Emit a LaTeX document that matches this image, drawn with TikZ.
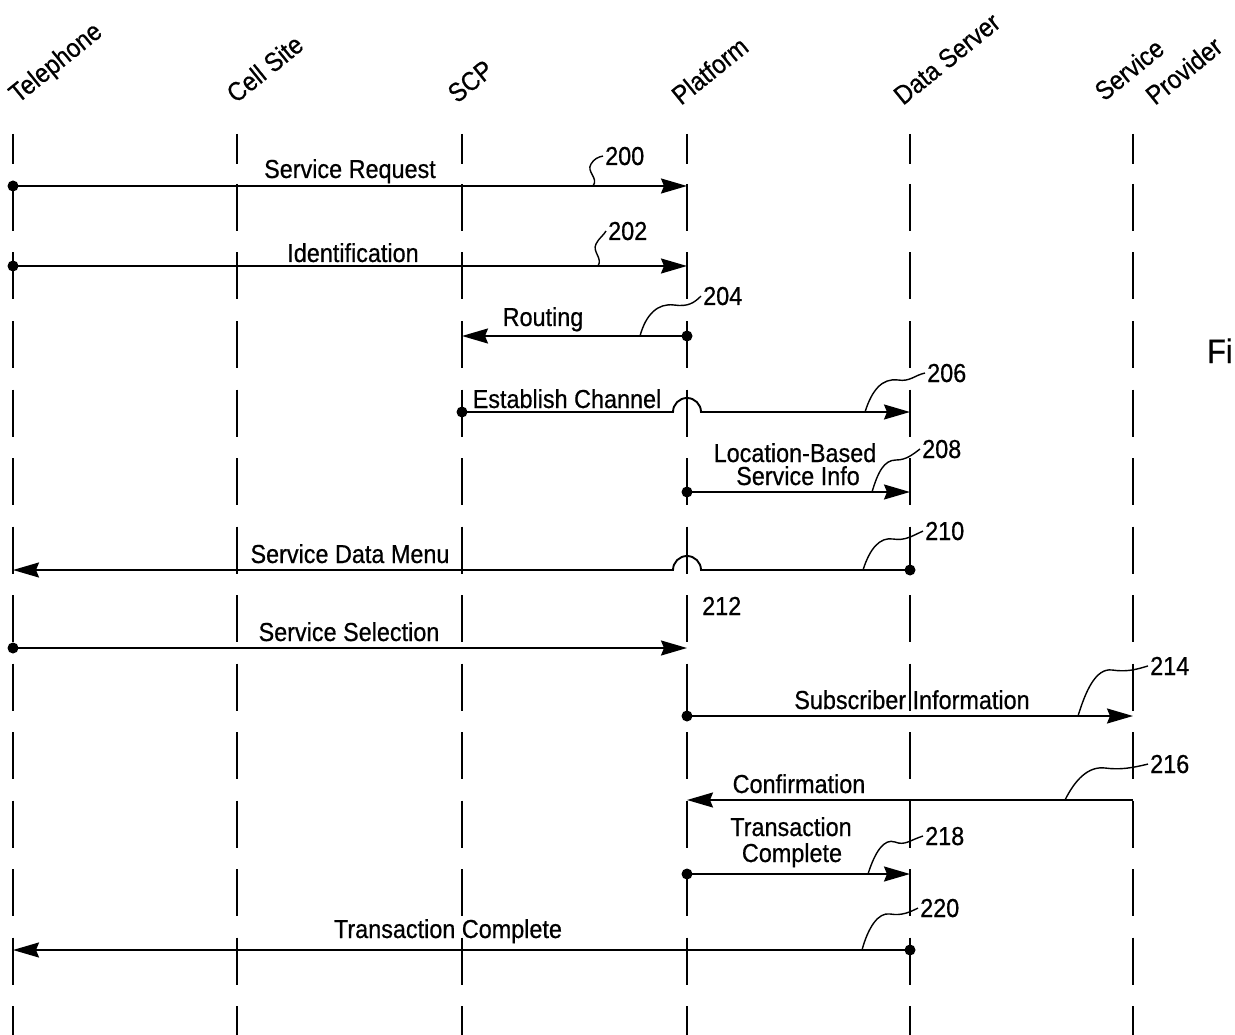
\documentclass[tikz,border=0pt]{standalone}
\usepackage{fontspec}
\setmainfont{Liberation Sans}[FakeStretch=0.9,FakeBold=0.6]
\usetikzlibrary{arrows.meta}

\begin{document}
\begin{tikzpicture}[x=1pt,y=-1pt,>={Stealth[length=26pt,width=15pt,inset=3pt]},
  font=\fontsize{26}{30}\selectfont]
  \tikzstyle{lifeline}=[line width=1.8pt,dash pattern=on 30pt off 20pt on 47pt off 21.5pt on 47pt off 21.5pt on 47pt off 21.5pt on 47pt off 21.5pt on 47pt off 21.5pt on 47pt off 21.5pt on 47pt off 21.5pt on 47pt off 21.5pt on 47pt off 21.5pt on 47pt off 21.5pt on 47pt off 21.5pt on 47pt off 21.5pt on 47pt off 21.5pt]
  \tikzstyle{msg}=[line width=1.9pt,->]
  \tikzstyle{leader}=[line width=1.4pt]
  \tikzstyle{dot}=[circle,fill,inner sep=0pt,minimum size=11pt]
  \tikzstyle{head}=[rotate=39,anchor=base west,inner sep=0pt,font=\fontsize{26.5}{30}\selectfont]
  \tikzstyle{msglabel}=[anchor=base,inner sep=0pt]
  \tikzstyle{ref}=[anchor=base west,inner sep=0pt]

  \useasboundingbox (0,0) rectangle (1235,1035);

  % column heads
  \node[head] (tel) at (18,104) {Telephone};
  \node[head] (cell) at (236,104) {Cell Site};
  \node[head] (scp) at (457,104) {SCP};
  \node[head] (plat) at (681,106) {Platform};
  \node[head] (data) at (903,106) {Data Server};
  \node[head] (prov) at (1104,102) {Service};
  \node[head] (provb) at (1155,106) {Provider};
  \node[anchor=base west,inner sep=0pt,font=\fontsize{34}{40}\selectfont] (fig) at (1207,363) {Fi};

  % life lines
  \coordinate (tel-top) at (13,134);   \coordinate (tel-bot) at (13,1035);
  \coordinate (cell-top) at (237,134); \coordinate (cell-bot) at (237,1035);
  \coordinate (scp-top) at (462,134);  \coordinate (scp-bot) at (462,1035);
  \coordinate (plat-top) at (687,134); \coordinate (plat-bot) at (687,1035);
  \coordinate (data-top) at (910,134); \coordinate (data-bot) at (910,1035);
  \coordinate (prov-top) at (1133,134); \coordinate (prov-bot) at (1133,1035);
  \draw[lifeline] (tel-top) -- (tel-bot);
  \draw[lifeline] (cell-top) -- (cell-bot);
  \draw[lifeline] (scp-top) -- (scp-bot);
  \draw[lifeline] (plat-top) -- (plat-bot);
  \draw[lifeline] (data-top) -- (data-bot);
  \draw[lifeline] (prov-top) -- (prov-bot);

  % 200
  \node[dot] (d200) at (13,186) {};
  \coordinate (a200) at (687,186);
  \draw[msg] (d200.center) -- (a200);
  \node[msglabel] (t200) at (350,178) {Service Request};
  \node[ref] (r200) at (605,165) {200};
  \coordinate (f200) at (593,186);
  \draw[leader] (f200) .. controls (599,178) and (586,172) .. (591,164) .. controls (594,159) and (598,157) .. ([xshift=-2pt]r200.west);

  % 202
  \node[dot] (d202) at (13,266) {};
  \coordinate (a202) at (687,266);
  \draw[msg] (d202.center) -- (a202);
  \node[msglabel] (t202) at (353,262) {Identification};
  \node[ref] (r202) at (608,240) {202};
  \coordinate (f202) at (598,266);
  \draw[leader] (f202) .. controls (603,258) and (592,252) .. (596,244) .. controls (599,238) and (603,236) .. ([xshift=-2pt]r202.west);

  % 204
  \node[dot] (d204) at (687,336) {};
  \coordinate (a204) at (462,336);
  \draw[msg] (d204.center) -- (a204);
  \node[msglabel] (t204) at (543,326) {Routing};
  \node[ref] (r204) at (703,305) {204};
  \coordinate (f204) at (640,336);
  \draw[leader] (f204) .. controls (646,314) and (658,303) .. (674,305) .. controls (688,307) and (694,303) .. ([xshift=-2pt]r204.west);

  % 206
  \node[dot] (d206) at (462,412) {};
  \coordinate (j206) at (673,412);
  \coordinate (a206) at (910,412);
  \draw[msg] (d206.center) -- (j206) arc (180:360:14) -- (a206);
  \node[msglabel] (t206) at (567,408) {Establish Channel};
  \node[ref] (r206) at (927,382) {206};
  \coordinate (f206) at (865,412);
  \draw[leader] (f206) .. controls (872,390) and (882,378) .. (898,380) .. controls (910,382) and (915,375) .. ([xshift=-2pt]r206.west);

  % 208
  \node[dot] (d208) at (687,492) {};
  \coordinate (a208) at (910,492);
  \draw[msg] (d208.center) -- (a208);
  \node[msglabel] (t208) at (795,462) {Location-Based};
  \node[msglabel] (t208b) at (798,485) {Service Info};
  \node[ref] (r208) at (922,458) {208};
  \coordinate (f208) at (872,492);
  \draw[leader] (f208) .. controls (878,472) and (884,460) .. (896,460) .. controls (906,460) and (912,455) .. ([xshift=-2pt]r208.west);

  % 210
  \node[dot] (d210) at (910,570) {};
  \coordinate (j210) at (701,570);
  \coordinate (a210) at (13,570);
  \draw[msg] (d210.center) -- (j210) arc (0:-180:14) -- (a210);
  \node[msglabel] (t210) at (350,563) {Service Data Menu};
  \node[ref] (r210) at (925,540) {210};
  \coordinate (f210) at (863,570);
  \draw[leader] (f210) .. controls (870,548) and (880,537) .. (893,539) .. controls (905,541) and (912,536) .. ([xshift=-2pt]r210.west);

  % 212
  \node[dot] (d212) at (13,648) {};
  \coordinate (a212) at (687,648);
  \draw[msg] (d212.center) -- (a212);
  \node[msglabel] (t212) at (349,641) {Service Selection};
  \node[ref] (r212) at (702,615) {212};

  % 214
  \node[dot] (d214) at (687,716) {};
  \coordinate (a214) at (1133,716);
  \draw[msg] (d214.center) -- (a214);
  \node[msglabel] (t214) at (912,709) {Subscriber Information};
  \node[ref] (r214) at (1150,675) {214};
  \coordinate (f214) at (1078,716);
  \draw[leader] (f214) .. controls (1086,690) and (1096,668) .. (1112,670) .. controls (1126,672) and (1135,670) .. ([xshift=-2pt]r214.west);

  % 216
  \coordinate (s216) at (1133,800);
  \coordinate (a216) at (687,800);
  \draw[msg] (s216) -- (a216);
  \node[msglabel] (t216) at (799,793) {Confirmation};
  \node[ref] (r216) at (1150,773) {216};
  \coordinate (f216) at (1065,800);
  \draw[leader] (f216) .. controls (1075,780) and (1088,766) .. (1105,768) .. controls (1120,770) and (1132,768) .. ([xshift=-2pt]r216.west);

  % 218
  \node[dot] (d218) at (687,874) {};
  \coordinate (a218) at (910,874);
  \draw[msg] (d218.center) -- (a218);
  \node[msglabel] (t218) at (791,836) {Transaction};
  \node[msglabel] (t218b) at (792,862) {Complete};
  \node[ref] (r218) at (925,845) {218};
  \coordinate (f218) at (868,874);
  \draw[leader] (f218) .. controls (875,852) and (884,838) .. (895,842) .. controls (905,846) and (910,840) .. ([xshift=-2pt]r218.west);

  % 220
  \node[dot] (d220) at (910,950) {};
  \coordinate (a220) at (13,950);
  \draw[msg] (d220.center) -- (a220);
  \node[msglabel] (t220) at (448,938) {Transaction Complete};
  \node[ref] (r220) at (920,917) {220};
  \coordinate (f220) at (862,950);
  \draw[leader] (f220) .. controls (868,928) and (878,912) .. (890,914) .. controls (902,916) and (910,912) .. ([xshift=-2pt]r220.west);
\end{tikzpicture}
\end{document}
